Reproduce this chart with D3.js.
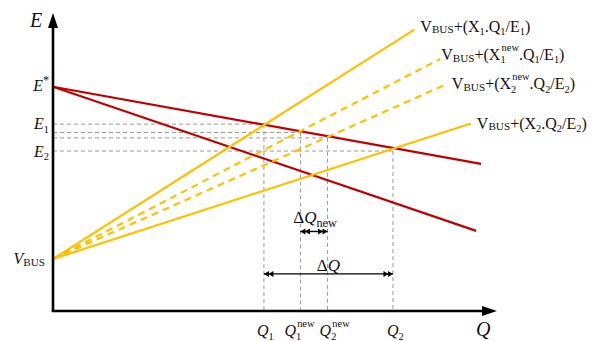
<!DOCTYPE html>
<html>
<head>
<meta charset="utf-8">
<script src="https://cdn.jsdelivr.net/npm/d3@7"></script>
<style>
  html, body { margin: 0; padding: 0; background: #fff; }
  text { font-family: "Liberation Serif", "DejaVu Serif", serif; fill: #111; }
</style>
</head>
<body>
<div id="chart"></div>
<script>
// operating points on the Q axis
const qNames = ["Q1", "Q1new", "Q2new", "Q2"];
const qValues = [47.4, 55.6, 61.7, 76.4];
// E level at each operating point
const eValues = [62.5, 59.7, 57.9, 53.5];

const eStar = 75;
const vBus = 17.4;

// droop lines (red), start at E*
const droopEnds = [[96.2, 49.2], [95.1, 26.8]];

// V_BUS + X.Q/E lines (yellow), start at V_BUS
const loadNames = ["X1", "X1new", "X2new", "X2"];
const loadEnds = [[81.2, 94.1], [87.0, 84.3], [88.5, 75.9], [93.9, 62.7]];
const loadDashed = [false, true, true, false];

// delta Q arrows
const deltaNames = ["dQ", "dQnew"];
const deltaFrom = [47.4, 55.6];
const deltaTo = [76.4, 61.7];
const deltaLevel = [12.4, 26.6];

const width = 597, height = 341;
const yellow = "#ffc000", red = "#c00000", grey = "#999";

const svg = d3.select("#chart")
	.append("svg")
	.attr("width", width)
	.attr("height", height);

const x = d3.scaleLinear().domain([0, 100]).range([53, 498]);
const y = d3.scaleLinear().domain([0, 100]).range([311, 12]);

// markers
const defs = svg.append("defs");
defs.append("marker")
	.attr("id", "axisHead")
	.attr("markerUnits", "userSpaceOnUse")
	.attr("markerWidth", 16).attr("markerHeight", 12)
	.attr("viewBox", "0 -6 16 12")
	.attr("refX", 1).attr("refY", 0)
	.attr("orient", "auto")
	.append("path")
	.attr("d", "M0,-5L15,0L0,5Z")
	.attr("fill", "#000");
defs.append("marker")
	.attr("id", "dblHead")
	.attr("markerUnits", "userSpaceOnUse")
	.attr("markerWidth", 10).attr("markerHeight", 8)
	.attr("viewBox", "-10 -4 10 8")
	.attr("refX", 0).attr("refY", 0)
	.attr("orient", "auto-start-reverse")
	.append("path")
	.attr("d", "M0,0L-5,-3L-5,3Z M-4.5,0L-9.5,-3L-9.5,3Z")
	.attr("fill", "#000");

// rich text helper: parts = [{t, it, fs, dy, dx}]
function rich(g, px, py, parts, size, anchor) {
	const t = g.append("text")
		.attr("x", px).attr("y", py)
		.attr("font-size", size)
		.attr("text-anchor", anchor || "start");
	let cur = 0;
	parts.forEach(p => {
		const target = (p.dy || 0) * size;
		const ts = t.append("tspan").text(p.t).attr("dy", target - cur);
		cur = target;
		if (p.fs) ts.attr("font-size", p.fs * size);
		if (p.it) ts.attr("font-style", "italic");
		if (p.dx) ts.attr("dx", p.dx * size);
	});
	return t;
}
const N = t => ({ t });
const I = t => ({ t, it: true });
const Sb = t => ({ t, fs: 0.65, dy: 0.22 });
const Bus = () => ({ t: "BUS", fs: 0.7, dy: 0.1 });
const New = () => ({ t: "new", fs: 0.65, dy: -0.55, dx: -0.25 });

// grey guide lines
const guides = svg.append("g").attr("class", "guides")
	.attr("stroke", grey).attr("stroke-width", 1).attr("stroke-dasharray", "4,3").attr("fill", "none");
guides.selectAll("line.h")
	.data(qValues)
	.join("line")
	.attr("class", "h")
	.attr("x1", x(0)).attr("x2", d => x(d))
	.attr("y1", (d, i) => y(eValues[i])).attr("y2", (d, i) => y(eValues[i]));
guides.selectAll("line.v")
	.data(qValues)
	.join("line")
	.attr("class", "v")
	.attr("x1", d => x(d)).attr("x2", d => x(d))
	.attr("y1", (d, i) => y(eValues[i])).attr("y2", y(0));

// droop lines
svg.append("g").selectAll("line")
	.data(droopEnds)
	.join("line")
	.attr("x1", x(0)).attr("y1", y(eStar))
	.attr("x2", d => x(d[0])).attr("y2", d => y(d[1]))
	.attr("stroke", red).attr("stroke-width", 2.2);

// load lines
svg.append("g").selectAll("line")
	.data(loadEnds)
	.join("line")
	.attr("x1", x(0)).attr("y1", y(vBus))
	.attr("x2", d => x(d[0])).attr("y2", d => y(d[1]))
	.attr("stroke", yellow).attr("stroke-width", 2.2)
	.attr("stroke-dasharray", (d, i) => loadDashed[i] ? "7,5" : null);

// axes
svg.append("line")
	.attr("x1", x(0)).attr("y1", y(0)).attr("x2", x(0)).attr("y2", y(100) + 15)
	.attr("stroke", "#000").attr("stroke-width", 2.6)
	.attr("marker-end", "url(#axisHead)");
svg.append("line")
	.attr("x1", x(0) - 1.3).attr("y1", y(0)).attr("x2", x(100) - 15).attr("y2", y(0))
	.attr("stroke", "#000").attr("stroke-width", 2.6)
	.attr("marker-end", "url(#axisHead)");

const labels = svg.append("g");
rich(labels, 30, 27, [I("E")], 20);
rich(labels, 476, 336, [I("Q")], 20);

// left labels
rich(labels, 49, y(eStar) + 4, [I("E"), { t: "*", fs: 0.75, dy: -0.4 }], 16, "end");
rich(labels, 49, y(eValues[0]) + 5, [I("E"), Sb("1")], 16, "end");
rich(labels, 49, y(eValues[3]) + 5.5, [I("E"), Sb("2")], 16, "end");
rich(labels, 45, y(vBus) + 5, [I("V"), Bus()], 16, "end");

// bottom labels
const qLabelDx = [-7, -16, -8, -6];
qValues.forEach((q, i) => {
	const name = qNames[i];
	const sub = name.charAt(1);
	const parts = name.endsWith("new")
		? [I("Q"), Sb(sub), New()]
		: [I("Q"), Sb(sub)];
	rich(labels, x(q) + qLabelDx[i], 336, parts, 16);
});

// right-hand line labels
const loadLabelOff = [[6, 2], [1, 1], [5, 5], [6, 5]];
loadEnds.forEach((e, i) => {
	const name = loadNames[i];
	const k = name.charAt(1);
	const xPart = name.endsWith("new")
		? [N("+(X"), Sb(k), New(), N(".Q")]
		: [N("+(X"), Sb(k), N(".Q")];
	const parts = [N("V"), Bus()].concat(xPart, [Sb(k), N("/E"), Sb(k), N(")")]);
	rich(labels, x(e[0]) + loadLabelOff[i][0], y(e[1]) + loadLabelOff[i][1], parts, 16);
});

// delta Q arrows
const arrows = svg.append("g");
arrows.selectAll("line")
	.data(deltaFrom)
	.join("line")
	.attr("x1", d => x(d)).attr("x2", (d, i) => x(deltaTo[i]))
	.attr("y1", (d, i) => y(deltaLevel[i])).attr("y2", (d, i) => y(deltaLevel[i]))
	.attr("stroke", "#000").attr("stroke-width", 1.4)
	.attr("marker-start", "url(#dblHead)")
	.attr("marker-end", "url(#dblHead)");
deltaNames.forEach((name, i) => {
	const cx = (x(deltaFrom[i]) + x(deltaTo[i])) / 2;
	const isNew = name === "dQnew";
	const parts = isNew
		? [N("Δ"), I("Q"), { t: "new", fs: 0.72, dy: 0.18 }]
		: [N("Δ"), I("Q")];
	rich(arrows, cx + (isNew ? 1 : 0), y(deltaLevel[i]) - (isNew ? 8 : 3), parts, 17, "middle");
});
</script>
</body>
</html>
